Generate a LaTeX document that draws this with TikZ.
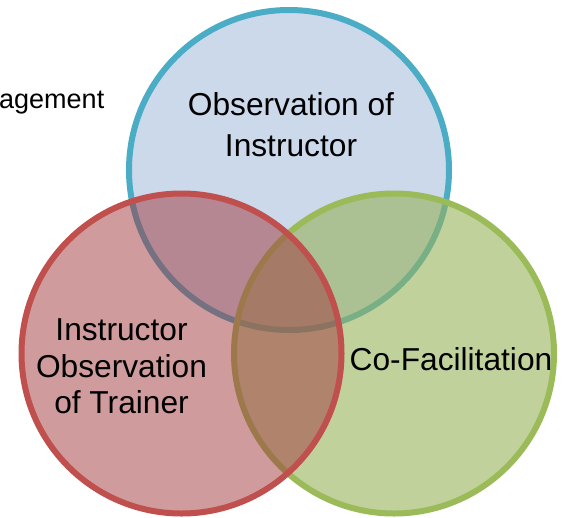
\documentclass[tikz,border=0pt]{standalone}
\usepackage{fontspec}
\setmainfont{Liberation Sans}
\definecolor{bstroke}{RGB}{75,172,198}
\definecolor{bfill}{RGB}{204,217,235}
\definecolor{gstroke}{RGB}{155,187,89}
\definecolor{gfill}{RGB}{150,178,90}
\definecolor{rstroke}{RGB}{192,80,77}
\definecolor{rfill}{RGB}{160,55,60}
\begin{document}
\begin{tikzpicture}[x=1pt,y=1pt,
  venn/.style={circle, minimum size=320pt, inner sep=0pt, line width=6pt},
  lbl/.style={inner sep=0pt, anchor=base, font=\fontsize{31.7}{37}\selectfont},
  side/.style={inner sep=0pt, anchor=base west, font=\fontsize{27}{32}\selectfont}]
\useasboundingbox (0,0) rectangle (564,-517);
\node[venn, draw=bstroke, fill=bfill] (blue) at (289,-170) {};
\node[venn, draw=gstroke, fill=gfill, fill opacity=0.6] (green) at (394,-353.5) {};
\node[venn, draw=rstroke, fill=rfill, fill opacity=0.5] (red) at (181.5,-353.5) {};
\node[side] (mgmt) at (-1,-108) {agement};
\node[lbl] (b1) at (291,-115) {Observation of};
\node[lbl] (b2) at (291,-156) {Instructor};
\node[lbl] (r1) at (121.5,-340) {Instructor};
\node[lbl] (r2) at (121.5,-377) {Observation};
\node[lbl] (r3) at (121.5,-413) {of Trainer};
\node[lbl] (g1) at (451,-370) {Co-Facilitation};
\end{tikzpicture}
\end{document}
